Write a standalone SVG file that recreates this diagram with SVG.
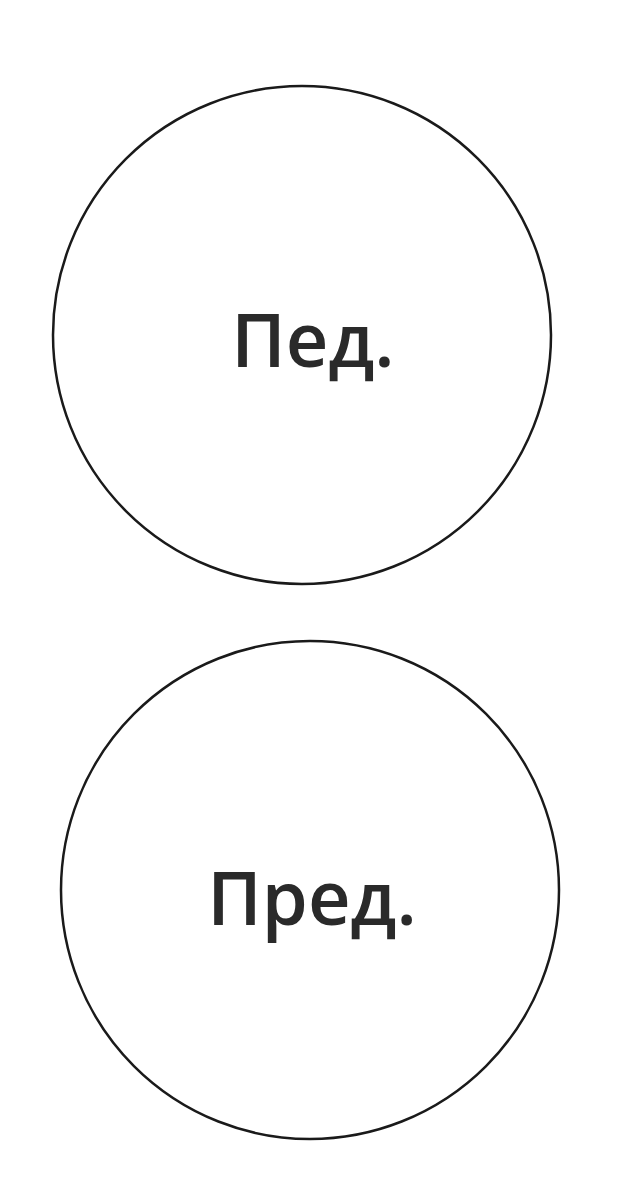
<svg xmlns="http://www.w3.org/2000/svg" width="624" height="1200" viewBox="0 0 624 1200">
<style>
.c{fill:#fff;stroke:#1a1a1a;stroke-width:2.5}
.t{font-family:"Open Sans","Noto Sans",sans-serif;font-size:74px;font-weight:600;fill:#2a2a2a;text-anchor:middle}
</style>
<rect width="624" height="1200" fill="#fff"/>
<g id="connectors"></g>
<g id="node-ped">
<circle class="c" cx="302" cy="335" r="249"/>
<text class="t" x="313" y="367">Пед.</text>
</g>
<g id="node-pred">
<circle class="c" cx="310" cy="890" r="249"/>
<text class="t" x="312" y="925">Пред.</text>
</g>
</svg>
